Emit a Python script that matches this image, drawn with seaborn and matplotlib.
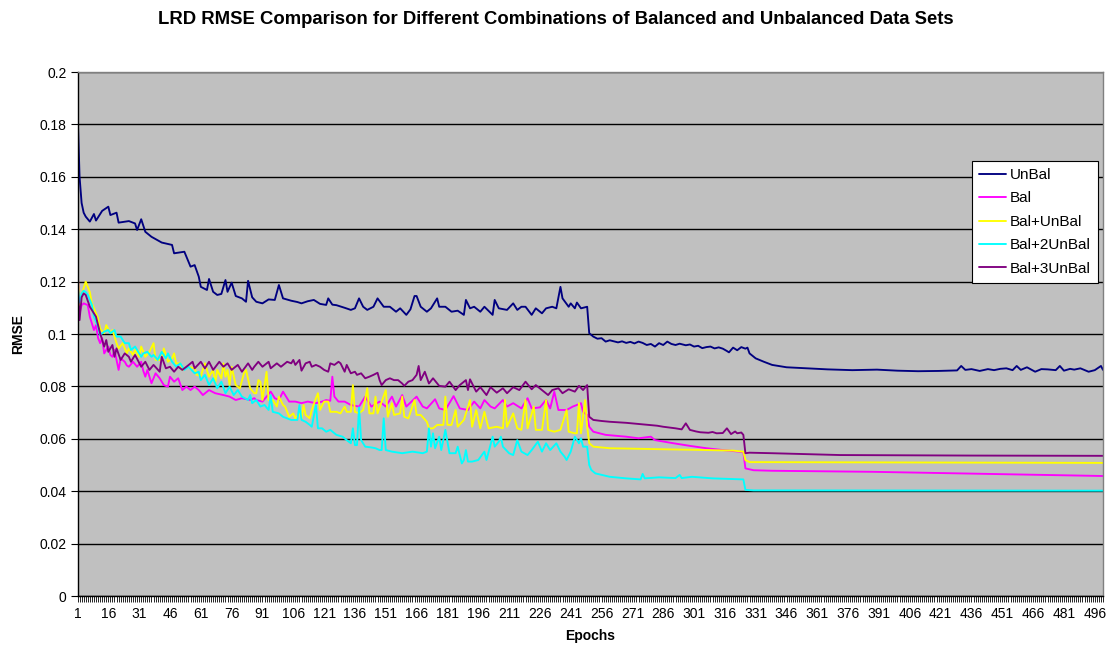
import numpy as np
import pandas as pd
import matplotlib
matplotlib.use("Agg")
import matplotlib.pyplot as plt
from matplotlib.ticker import MultipleLocator, FixedLocator, FuncFormatter
from matplotlib.lines import Line2D
import seaborn as sns

# ---------------- data ----------------
series_names = ["UnBal", "Bal", "Bal+UnBal", "Bal+2UnBal", "Bal+3UnBal"]
series_colors = ["#000080", "#FF00FF", "#FFFF00", "#00FFFF", "#800080"]

unbal_epochs = [1, 2, 3, 4, 5, 7, 9, 10, 13, 16, 17, 20, 21, 26, 29, 30, 32, 34, 37, 42, 47, 48, 53, 56, 58,
                60, 61, 64, 65, 67, 69, 71, 73, 74, 76, 78, 81, 83, 84, 86, 88, 91, 94, 97, 99, 101, 105, 108,
                110, 113, 116, 119, 122, 123, 125, 127, 131, 134, 136, 138, 140, 142, 145, 147, 150, 153, 156,
                158, 161, 163, 165, 166, 168, 171, 173, 176, 177, 180, 183, 186, 189, 190, 192, 194, 197, 199,
                203, 204, 206, 210, 213, 215, 217, 219, 222, 224, 227, 229, 232, 234, 236, 237, 240, 241, 243,
                244, 246,
                249, 250, 252, 254, 256, 258, 260, 262, 264, 266, 268, 270, 272, 274, 276, 278, 280, 282, 284,
                286, 288, 290, 292, 294, 297, 299, 301, 303, 305, 307, 309, 311, 313, 315, 317, 318, 320, 322,
                324, 326, 327, 328, 331, 335, 339, 346, 356, 366, 378, 390, 400, 410, 420, 429, 431, 433, 436,
                440, 444, 447, 450, 453, 456, 458, 460, 463, 467, 470, 473, 477, 479, 481, 484, 486, 489, 493,
                496, 499, 500]
unbal_rmse = [0.186, 0.160, 0.150, 0.1463, 0.1448, 0.1429, 0.1458, 0.1433, 0.1470, 0.1486, 0.1454, 0.1463,
              0.1425, 0.1431, 0.1422, 0.1397, 0.1438, 0.1390, 0.1371, 0.1349, 0.1340, 0.1308, 0.1314, 0.1257,
              0.1263, 0.1219, 0.1180, 0.1168, 0.1210, 0.1161, 0.1149, 0.1153, 0.1206, 0.1161, 0.1196, 0.1145,
              0.1136, 0.1123, 0.1203, 0.1140, 0.1123, 0.1117, 0.1132, 0.1130, 0.1187, 0.1136, 0.1127, 0.1122,
              0.1117, 0.1125, 0.1130, 0.1115, 0.1111, 0.1136, 0.1112, 0.1110, 0.1100, 0.1092, 0.1098, 0.1136,
              0.1104, 0.1092, 0.1104, 0.1136, 0.1104, 0.1104, 0.1085, 0.1098, 0.1073, 0.1094, 0.1145, 0.1145,
              0.1104, 0.1085, 0.1098, 0.1136, 0.1104, 0.1104, 0.1085, 0.1089, 0.1073, 0.1130, 0.1098, 0.1104,
              0.1085, 0.1104, 0.1073, 0.1130, 0.1098, 0.1092, 0.1117, 0.1092, 0.1104, 0.1104, 0.1073, 0.1098,
              0.1079, 0.1098, 0.1104, 0.1098, 0.1180, 0.1136, 0.1104, 0.1117, 0.1098, 0.1120, 0.1098,
              0.1104, 0.1003, 0.0990, 0.0982, 0.0984, 0.0971, 0.0976, 0.0972, 0.0968, 0.0972, 0.0966, 0.0970,
              0.0964, 0.0971, 0.0966, 0.0958, 0.0962, 0.0952, 0.0965, 0.0958, 0.0971, 0.0962, 0.0958, 0.0963,
              0.0957, 0.0960, 0.0952, 0.0955, 0.0946, 0.0950, 0.0952, 0.0945, 0.0949, 0.0944, 0.0935, 0.0930,
              0.0948, 0.0938, 0.0950, 0.0944, 0.0948, 0.0926, 0.0907, 0.0894, 0.0882, 0.0873, 0.0869, 0.0865,
              0.0862, 0.0864, 0.0860, 0.0858, 0.0859, 0.0861, 0.0878, 0.0863, 0.0866, 0.0859, 0.0866, 0.0862,
              0.0867, 0.0869, 0.0862, 0.0878, 0.0863, 0.0873, 0.0856, 0.0866, 0.0865, 0.0862, 0.0878, 0.0860,
              0.0867, 0.0864, 0.0869, 0.0856, 0.0862, 0.0878, 0.0863]

bal_epochs = [1, 2, 3, 4, 6, 7, 8, 9, 10, 11, 12, 13, 14, 16, 17, 18, 19, 20, 21, 22, 24, 25, 26, 28, 30, 32,
              33, 34, 35, 37, 39, 41, 43, 45, 46, 48, 50, 52, 54, 56, 58, 60, 62, 65, 68, 72, 75, 78, 81, 85,
              87, 88, 91, 95, 97, 99, 101, 104, 107, 110, 113, 117, 120, 122, 124, 125, 126, 128, 131, 134,
              138, 141, 144, 148, 151, 154, 156, 159, 161, 166, 169, 171, 175, 177, 180, 184, 187, 191, 194,
              197, 199, 202, 204, 208, 210, 213, 217, 220, 222, 226, 229, 231, 233, 235, 239, 242, 244, 246,
              247, 249, 250, 252, 258, 268, 274, 280, 282, 291, 299, 307, 315, 323, 325, 326, 330, 339, 388,
              429, 500]
bal_rmse = [0.1257, 0.1080, 0.1110, 0.1117, 0.1110, 0.1066, 0.1040, 0.1015, 0.1034, 0.0985, 0.0965, 0.0984,
            0.0926, 0.0952, 0.0920, 0.0913, 0.0939, 0.0900, 0.0863, 0.0907, 0.0894, 0.0880, 0.0875, 0.0894,
            0.0875, 0.0894, 0.0860, 0.0837, 0.0863, 0.0812, 0.0850, 0.0831, 0.0805, 0.0799, 0.0837, 0.0818,
            0.0831, 0.0786, 0.0799, 0.0786, 0.0799, 0.0786, 0.0767, 0.0786, 0.0774, 0.0767, 0.0761, 0.0748,
            0.0755, 0.0748, 0.0755, 0.0748, 0.0742, 0.0780, 0.0755, 0.0748, 0.0780, 0.0742, 0.0742, 0.0736,
            0.0742, 0.0736, 0.0742, 0.0748, 0.0745, 0.0837, 0.0761, 0.0742, 0.0742, 0.0729, 0.0723, 0.0761,
            0.0723, 0.0742, 0.0723, 0.0761, 0.0723, 0.0767, 0.0723, 0.0761, 0.0723, 0.0716, 0.0751, 0.0716,
            0.0710, 0.0763, 0.0716, 0.0710, 0.0742, 0.0716, 0.0748, 0.0723, 0.0716, 0.0748, 0.0723, 0.0736,
            0.0716, 0.0755, 0.0716, 0.0720, 0.0748, 0.0716, 0.0780, 0.0710, 0.0710, 0.0723, 0.0729, 0.0736,
            0.0703, 0.0691, 0.0646, 0.0627, 0.0615, 0.0608, 0.0602, 0.0608, 0.0595, 0.0583, 0.0573, 0.0564,
            0.0557, 0.0551, 0.0549, 0.0487, 0.0480, 0.0478, 0.0474, 0.0468, 0.0458]

balunbal_epochs = [1, 2, 3, 4, 5, 6, 7, 8, 10, 11, 12, 14, 15, 17, 18, 20, 21, 23, 25, 26, 28, 29, 31, 32,
                   34, 36, 38, 39, 42, 43, 45, 47, 48, 49, 51, 52, 55, 58, 59, 61, 63, 65, 67, 68, 69, 71, 72,
                   73, 74, 75, 76, 78, 80, 82, 83, 85, 87, 88, 89, 90, 91, 93, 94, 96, 98, 99, 101, 102, 104,
                   106, 107, 109, 110, 111, 112, 114, 115, 117, 118, 119, 121, 123, 124, 127, 129, 131, 132,
                   134, 135, 136, 138, 140, 142, 143, 145, 146, 147, 151, 152, 154, 155, 158, 159, 160, 162,
                   165, 166, 168, 171, 172, 174, 176, 179, 180, 181, 183, 185, 186, 189, 192, 193, 195, 197,
                   199, 201, 205, 208, 209, 210, 213, 215, 217, 219, 220, 223, 224, 227, 229, 230, 233, 236,
                   239, 240, 243, 244, 245, 246, 248, 249, 250, 252, 260, 274, 290, 307, 320, 325, 326, 328,
                   500]
balunbal_rmse = [0.1244, 0.1104, 0.1150, 0.1175, 0.1200, 0.1180, 0.1160, 0.1117, 0.1079, 0.1060, 0.1020,
                 0.1003, 0.1034, 0.1003, 0.1015, 0.0965, 0.0945, 0.0965, 0.0926, 0.0945, 0.0920, 0.0939,
                 0.0913, 0.0952, 0.0913, 0.0932, 0.0965, 0.0901, 0.0901, 0.0945, 0.0894, 0.0907, 0.0926,
                 0.0888, 0.0888, 0.0863, 0.0875, 0.0869, 0.0844, 0.0840, 0.0888, 0.0837, 0.0863, 0.0812,
                 0.0863, 0.0831, 0.0888, 0.0837, 0.0863, 0.0805, 0.0875, 0.0805, 0.0793, 0.0850, 0.0863,
                 0.0793, 0.0774, 0.0774, 0.0824, 0.0818, 0.0748, 0.0856, 0.0748, 0.0748, 0.0723, 0.0761,
                 0.0729, 0.0723, 0.0684, 0.0697, 0.0678, 0.0697, 0.0678, 0.0729, 0.0691, 0.0678, 0.0710,
                 0.0755, 0.0774, 0.0710, 0.0742, 0.0742, 0.0703, 0.0703, 0.0697, 0.0723, 0.0703, 0.0703,
                 0.0805, 0.0703, 0.0697, 0.0710, 0.0793, 0.0697, 0.0697, 0.0761, 0.0697, 0.0786, 0.0684,
                 0.0736, 0.0691, 0.0697, 0.0761, 0.0684, 0.0678, 0.0748, 0.0691, 0.0691, 0.0665, 0.0640,
                 0.0640, 0.0653, 0.0653, 0.0761, 0.0653, 0.0653, 0.0710, 0.0646, 0.0672, 0.0748, 0.0646,
                 0.0710, 0.0640, 0.0703, 0.0640, 0.0646, 0.0640, 0.0748, 0.0646, 0.0697, 0.0640, 0.0634,
                 0.0748, 0.0640, 0.0723, 0.0634, 0.0634, 0.0748, 0.0634, 0.0627, 0.0634, 0.0710, 0.0627,
                 0.0621, 0.0621, 0.0736, 0.0621, 0.0748, 0.0646, 0.0583, 0.0570, 0.0564, 0.0562, 0.0560,
                 0.0557, 0.0555, 0.0551, 0.0519, 0.0511, 0.0508]

bal2unbal_epochs = [1, 2, 3, 4, 5, 6, 8, 9, 11, 12, 14, 16, 17, 19, 20, 22, 24, 26, 27, 29, 30, 32, 33, 35,
                    37, 38, 40, 42, 44, 45, 47, 49, 51, 53, 55, 58, 60, 61, 63, 65, 67, 69, 71, 73, 75, 77, 79,
                    81, 84, 85, 86, 88, 90, 92, 94, 95, 96, 99, 101, 103, 105, 108, 109, 110, 112, 114, 115,
                    117, 118, 120, 122, 124, 127, 130, 132, 134, 135, 136, 137, 138, 139, 141, 144, 146, 148,
                    149, 150, 151, 154, 159, 164, 169, 171, 172, 173, 174, 175, 177, 178, 180, 182, 185, 186,
                    188, 189, 190, 191, 193, 196, 199, 200, 203, 204, 206, 207, 208, 211, 213, 215, 217, 220,
                    222, 225, 227, 229, 231, 234, 236, 238, 239, 241, 243, 245, 246, 247, 249, 250, 251, 253,
                    260, 268, 275, 276, 277, 284, 292, 294, 295, 300, 310, 318, 325, 326, 330, 500]
bal2unbal_rmse = [0.1190, 0.1120, 0.1155, 0.1165, 0.1160, 0.1149, 0.1111, 0.1066, 0.1028, 0.0996, 0.1009,
                  0.1015, 0.1003, 0.1015, 0.0990, 0.0990, 0.0965, 0.0965, 0.0939, 0.0952, 0.0939, 0.0913,
                  0.0926, 0.0932, 0.0913, 0.0920, 0.0901, 0.0932, 0.0907, 0.0926, 0.0894, 0.0875, 0.0888,
                  0.0863, 0.0875, 0.0850, 0.0856, 0.0824, 0.0844, 0.0805, 0.0831, 0.0793, 0.0818, 0.0774,
                  0.0799, 0.0767, 0.0786, 0.0761, 0.0748, 0.0767, 0.0736, 0.0748, 0.0723, 0.0729, 0.0710,
                  0.0767, 0.0703, 0.0697, 0.0684, 0.0678, 0.0672, 0.0672, 0.0729, 0.0672, 0.0665, 0.0653,
                  0.0646, 0.0729, 0.0640, 0.0640, 0.0627, 0.0634, 0.0615, 0.0608, 0.0595, 0.0583, 0.0640,
                  0.0576, 0.0576, 0.0720, 0.0595, 0.0570, 0.0567, 0.0564, 0.0557, 0.0557, 0.0678, 0.0557,
                  0.0551, 0.0545, 0.0551, 0.0545, 0.0551, 0.0640, 0.0570, 0.0621, 0.0564, 0.0608, 0.0557,
                  0.0634, 0.0545, 0.0545, 0.0570, 0.0506, 0.0519, 0.0557, 0.0513, 0.0513, 0.0519, 0.0551,
                  0.0519, 0.0608, 0.0570, 0.0589, 0.0608, 0.0570, 0.0545, 0.0538, 0.0595, 0.0551, 0.0538,
                  0.0557, 0.0589, 0.0551, 0.0583, 0.0557, 0.0583, 0.0551, 0.0532, 0.0519, 0.0551, 0.0608,
                  0.0583, 0.0602, 0.0570, 0.0570, 0.0500, 0.0481, 0.0468, 0.0455, 0.0449, 0.0445, 0.0466,
                  0.0449, 0.0453, 0.0450, 0.0462, 0.0450, 0.0455, 0.0449, 0.0447, 0.0445, 0.0405, 0.0403,
                  0.0402]

bal3unbal_epochs = [1, 2, 3, 4, 5, 7, 10, 12, 14, 15, 16, 18, 19, 20, 22, 24, 26, 27, 29, 32, 34, 36, 38, 41,
                    42, 44, 46, 48, 50, 52, 54, 57, 58, 61, 63, 65, 67, 70, 72, 74, 76, 79, 81, 84, 86, 87, 89,
                    91, 94, 95, 98, 100, 103, 105, 106, 107, 109, 110, 112, 114, 115, 117, 119, 121, 123, 124,
                    126, 128, 129, 131, 132, 134, 136, 137, 139, 141, 143, 145, 147, 148, 149, 151, 153, 155,
                    157, 159, 160, 162, 164, 166, 167, 168, 170, 172, 174, 177, 180, 182, 185, 187, 190, 191,
                    192, 195, 197, 200, 202, 205, 208, 210, 213, 216, 219, 222, 224, 227, 230, 232, 235, 237,
                    240, 243, 245, 247, 249,
                    250, 252, 256, 260, 264, 268, 272, 276, 280, 283, 286, 289, 292, 295, 297, 299, 302, 304,
                    308, 310, 312, 315, 317, 319, 321, 322, 324, 325, 326, 328, 339, 372, 436, 500]
bal3unbal_rmse = [0.1210, 0.1053, 0.1140, 0.1155, 0.1149, 0.1104, 0.1066, 0.1003, 0.0952, 0.0977, 0.0932,
                  0.0958, 0.0913, 0.0945, 0.0901, 0.0926, 0.0913, 0.0894, 0.0920, 0.0875, 0.0894, 0.0863,
                  0.0882, 0.0856, 0.0913, 0.0869, 0.0875, 0.0856, 0.0875, 0.0863, 0.0875, 0.0894, 0.0869,
                  0.0894, 0.0869, 0.0894, 0.0863, 0.0894, 0.0875, 0.0888, 0.0863, 0.0882, 0.0856, 0.0888,
                  0.0863, 0.0875, 0.0894, 0.0875, 0.0894, 0.0869, 0.0888, 0.0875, 0.0894, 0.0888, 0.0901,
                  0.0882, 0.0901, 0.0860, 0.0888, 0.0894, 0.0875, 0.0882, 0.0875, 0.0863, 0.0856, 0.0888,
                  0.0882, 0.0894, 0.0888, 0.0856, 0.0882, 0.0850, 0.0856, 0.0844, 0.0850, 0.0831, 0.0837,
                  0.0844, 0.0852, 0.0824, 0.0805, 0.0824, 0.0831, 0.0824, 0.0824, 0.0811, 0.0802, 0.0818,
                  0.0824, 0.0844, 0.0878, 0.0824, 0.0856, 0.0811, 0.0831, 0.0802, 0.0799, 0.0818, 0.0786,
                  0.0805, 0.0824, 0.0786, 0.0827, 0.0780, 0.0797, 0.0767, 0.0797, 0.0776, 0.0793, 0.0774,
                  0.0797, 0.0786, 0.0818, 0.0789, 0.0805, 0.0786, 0.0767, 0.0786, 0.0793, 0.0774, 0.0789,
                  0.0780, 0.0802, 0.0786, 0.0805,
                  0.0684, 0.0672, 0.0668, 0.0665, 0.0663, 0.0661, 0.0658, 0.0655, 0.0652, 0.0650, 0.0646,
                  0.0643, 0.0640, 0.0636, 0.0659, 0.0634, 0.0628, 0.0625, 0.0623, 0.0626, 0.0621, 0.0622,
                  0.0640, 0.0618, 0.0628, 0.0621, 0.0624, 0.0615, 0.0545, 0.0547, 0.0545, 0.0538, 0.0536,
                  0.0535]

x_tick_labels = list(range(1, 497, 15))
y_ticks = [0, 0.02, 0.04, 0.06, 0.08, 0.1, 0.12, 0.14, 0.16, 0.18, 0.2]

# ---------------- build long table ----------------
all_epochs = [unbal_epochs, bal_epochs, balunbal_epochs, bal2unbal_epochs, bal3unbal_epochs]
all_rmse = [unbal_rmse, bal_rmse, balunbal_rmse, bal2unbal_rmse, bal3unbal_rmse]
frames = []
for name, ep, rm in zip(series_names, all_epochs, all_rmse):
    n = min(len(ep), len(rm))
    frames.append(pd.DataFrame({"Epoch": ep[:n], "RMSE": rm[:n], "Series": name}))
df = pd.concat(frames, ignore_index=True)

# ---------------- style ----------------
sns.set_style("white")
plt.rcParams["font.family"] = ["Liberation Sans", "DejaVu Sans"]
plt.rcParams["text.color"] = "black"
plt.rcParams["axes.labelcolor"] = "black"
plt.rcParams["xtick.color"] = "black"
plt.rcParams["ytick.color"] = "black"

fig = plt.figure(figsize=(11.17, 6.55), dpi=100)
ax = fig.add_axes([77.5 / 1117, 1 - 596 / 655, (1103 - 77.5) / 1117, 524 / 655])
ax.set_facecolor("#C0C0C0")

ax.set_axisbelow(True)
ax.yaxis.grid(True, color="black", linewidth=1.0)
ax.xaxis.grid(False)

sns.lineplot(data=df, x="Epoch", y="RMSE", hue="Series", hue_order=series_names,
             palette=dict(zip(series_names, series_colors)), estimator=None, sort=False,
             linewidth=1.35, legend=False, ax=ax)

ax.set_xlim(1, 500)
ax.set_ylim(0, 0.2)

ax.xaxis.set_major_locator(FixedLocator(x_tick_labels))
ax.xaxis.set_minor_locator(MultipleLocator(1))
ax.yaxis.set_major_locator(FixedLocator(y_ticks))
ax.yaxis.set_major_formatter(FuncFormatter(lambda v, p: f"{v:g}"))
ax.tick_params(axis="x", which="both", direction="out", length=4, width=0.6, color="black",
               labelcolor="black", labelsize=10, pad=4, bottom=True)
ax.tick_params(axis="y", which="major", direction="out", length=5, width=0.8, color="black",
               labelcolor="black", labelsize=10, pad=3, left=True)

for side in ["left", "bottom"]:
    ax.spines[side].set_color("black")
    ax.spines[side].set_linewidth(1.0)
for side in ["top", "right"]:
    ax.spines[side].set_color("#808080")
    ax.spines[side].set_linewidth(1.0)

ax.set_xlabel("Epochs", fontsize=10, fontweight="bold", labelpad=6, color="black")
ax.set_ylabel("RMSE", fontsize=10, fontweight="bold", labelpad=10, color="black")

fig.suptitle("LRD RMSE Comparison for Different Combinations of Balanced and Unbalanced Data Sets",
             fontsize=13.3, fontweight="bold", x=556 / 1117, y=1 - 19 / 655, va="center", color="black")

handles = [Line2D([0], [0], color=c, linewidth=1.35) for c in series_colors]
leg = ax.legend(handles, series_names, loc="upper right", bbox_to_anchor=(0.995, 0.830),
                fontsize=11, frameon=True, fancybox=False, edgecolor="black", facecolor="white",
                framealpha=1, handlelength=1.75, labelspacing=0.62, borderpad=0.45, handletextpad=0.3,
                borderaxespad=0)
leg.get_frame().set_linewidth(0.8)
for t in leg.get_texts():
    t.set_color("black")

fig.savefig("out.png", dpi=100, facecolor="white")
